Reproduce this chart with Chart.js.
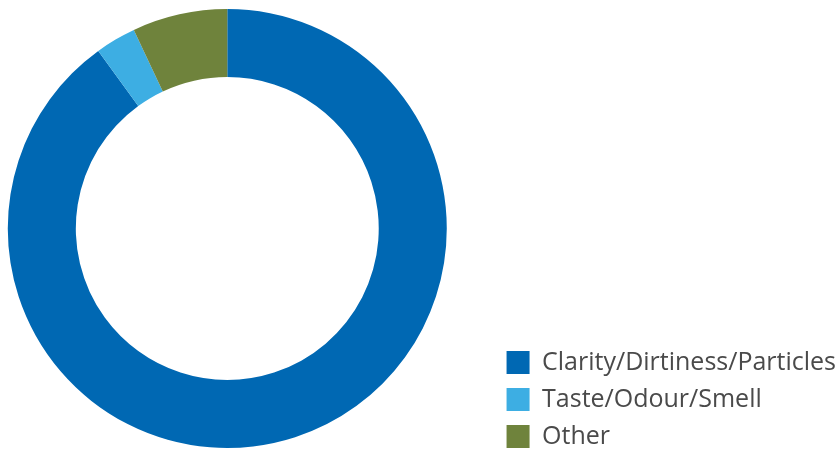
<!DOCTYPE html>
<html>
<head>
<meta charset="utf-8">
<script src="https://cdn.jsdelivr.net/npm/chart.js@4/dist/chart.umd.min.js"></script>
<style>
    html, body { margin: 0; padding: 0; background: #ffffff; overflow: hidden; }
    body { width: 838px; height: 450px; position: relative; }
    /* canvas runs a little past the page edges so the ring lands left of the legend */
    #wrap { position: absolute; left: -40px; top: -4px; width: 888px; height: 465px; }
</style>
</head>
<body>
<div id="wrap"><canvas id="complaintsChart"></canvas></div>
<script>
// Complaint categories and their share (%)
const categories = ['Clarity/Dirtiness/Particles', 'Taste/Odour/Smell', 'Other'];
const shares = [90, 3, 7];
const sliceColors = ['#0068b3', '#3daee3', '#6f833c'];

const ctx = document.getElementById('complaintsChart');

new Chart(ctx, {
    type: 'doughnut',
    data: {
        labels: categories,
        datasets: [{
            data: shares,
            backgroundColor: sliceColors,
            borderWidth: 0,
            hoverOffset: 0
        }]
    },
    options: {
        responsive: true,
        maintainAspectRatio: false,
        animation: false,
        radius: 219.5,
        cutout: '69%',
        layout: {
            padding: { right: 2 }
        },
        plugins: {
            legend: {
                position: 'right',
                align: 'end',
                labels: {
                    boxWidth: 23,
                    boxHeight: 23,
                    padding: 12,
                    color: '#4a4a4a',
                    font: {
                        family: 'Open Sans',
                        size: 25
                    }
                }
            },
            tooltip: { enabled: false }
        }
    }
});
</script>
</body>
</html>
